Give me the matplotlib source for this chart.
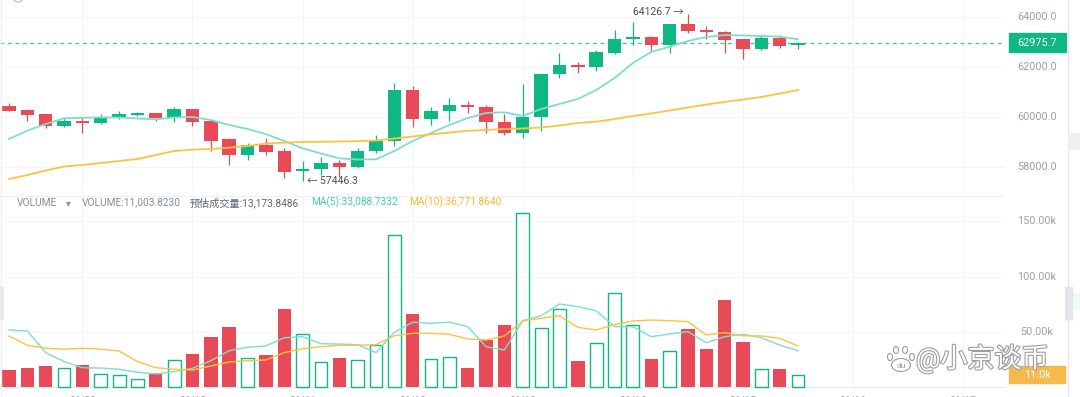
"""
BTC candles with volume pane, redrawn from a screenshot
"""

import matplotlib.pyplot as plt
import matplotlib.patheffects as pe
from matplotlib.patches import Rectangle, Ellipse, FancyBboxPatch
from matplotlib.transforms import blended_transform_factory

plt.rcParams["font.family"] = ["Roboto", "Noto Sans CJK SC", "DejaVu Sans"]

W, H = 1080, 397

# ------------------------------------------------------------------------------------
# Data
# ------------------------------------------------------------------------------------
opens = [60440, 60280, 60107, 59653, 59840, 59747, 59947, 60093, 60147, 59973,
         60307, 59853, 59107, 58493, 58880, 58640, 57840, 57907, 58147, 57987,
         58640, 59040, 61080, 59920, 60253, 60493, 60413, 59787, 59347, 60013,
         61720, 62080, 62013, 62547, 63107, 63213, 62880, 63720, 63480, 63387,
         63120, 62720, 63147, 62867]
highs = [60548, 60320, 60130, 59960, 59960, 60120, 60253, 60213, 60173, 60387,
         60330, 59880, 59173, 58947, 59147, 58747, 58253, 58413, 58280, 58747,
         59280, 61347, 61240, 60387, 60747, 60653, 60480, 60120, 61320, 61773,
         62547, 62213, 62680, 63480, 63813, 63240, 63740, 64126.7, 63653, 63440,
         63120, 63280, 63280, 63013]
lows = [60230, 59853, 59572, 59612, 59347, 59720, 59920, 60053, 59853, 59813,
        59653, 58653, 58080, 58280, 58480, 57547, 57446.3, 57680, 57613, 57960,
        58547, 58840, 59613, 59680, 59853, 60173, 59347, 59280, 59147, 59453,
        61547, 61773, 61853, 62520, 62880, 62613, 62573, 63347, 63107, 62547,
        62307, 62680, 62773, 62707]
closes = [60252, 60067, 59640, 59840, 59747, 59947, 60120, 60173, 59947, 60307,
          59813, 59053, 58493, 58880, 58613, 57813, 57907, 58147, 57987, 58653,
          59040, 61080, 59920, 60253, 60480, 60413, 59787, 59347, 60013, 61720,
          62080, 62013, 62587, 63107, 63213, 62880, 63720, 63453, 63387, 63093,
          62720, 63147, 62840, 62975.7]

price_ma_fast = [59120, 59453, 59720, 59947, 59968, 59988, 59980, 59940, 59907, 59980,
                 60000, 59880, 59680, 59520, 59320, 59040, 58747, 58540, 58347, 58300,
                 58307, 58640, 59040, 59360, 59680, 59960, 60160, 60188, 60040, 60320,
                 60520, 60720, 61080, 61560, 62160, 62600, 62813, 63040, 63200, 63280,
                 63260, 63240, 63213, 63107]
price_ma_slow = [57520, 57680, 57860, 58020, 58080, 58160, 58240, 58320, 58480, 58640,
                 58693, 58720, 58773, 58840, 58940, 58976, 59000, 59008, 59020, 59032,
                 59060, 59140, 59220, 59307, 59380, 59448, 59480, 59520, 59540, 59580,
                 59660, 59760, 59813, 59920, 60040, 60140, 60260, 60380, 60500, 60600,
                 60700, 60800, 60940, 61080]

# volume in thousands
volumes = [15.6, 17.7, 19.5, 17.4, 20.4, 12.0, 11.1, 7.2, 12.7, 24.7,
           30.1, 45.5, 54.5, 26.5, 29.5, 71.1, 48.2, 22.6, 26.8, 24.4,
           38.0, 137.7, 66.3, 25.6, 27.1, 17.7, 42.8, 56.3, 157.6, 53.3,
           70.8, 23.5, 40.0, 85.0, 56.0, 25.9, 32.8, 52.7, 34.6, 78.9,
           41.2, 16.8, 16.8, 11.0]
vol_ma5 = [51.8, 50.9, 31.3, 23.2, 17.7, 17.4, 16.3, 13.6, 12.0, 14.1,
           17.2, 24.0, 33.1, 36.2, 37.3, 44.8, 45.7, 39.4, 39.1, 38.5,
           31.3, 49.7, 58.8, 57.9, 58.8, 54.8, 36.7, 33.7, 60.2, 64.7,
           75.3, 72.9, 69.2, 54.8, 54.8, 45.7, 48.2, 50.3, 40.3, 45.7,
           47.9, 44.8, 38.2, 33.1]
vol_ma10 = [46.4, 38.0, 35.3, 34.4, 35.3, 34.4, 32.8, 23.2, 17.7, 16.3,
            15.6, 19.3, 22.9, 24.0, 24.7, 31.3, 34.9, 36.7, 38.0, 38.0,
            38.5, 46.6, 48.8, 48.8, 47.9, 43.7, 42.8, 46.4, 59.9, 62.4,
            64.7, 54.2, 51.8, 56.6, 59.9, 60.8, 60.2, 59.3, 47.3, 49.4,
            46.6, 46.4, 44.3, 37.3]

price_ticks = [58000, 60000, 62000, 64000]
volume_ticks = [50, 100, 150]
volume_tick_labels = ["50.00k", "100.00k", "150.00k"]
date_labels = ["06/09", "06/10", "06/11", "06/12", "06/13", "06/14", "06/15", "06/16", "06/17"]
last_price = 62975.7
high_label = "64126.7"
low_label = "57446.3"

GREEN = "#0fb883"
RED = "#e84b57"
MA_CYAN = "#7ddfc9"
MA_ORANGE = "#fcc33f"
GRID = "#f4f5f6"
AXIS_TEXT = "#9aa1ab"


def fx(x):
    return x / W


def fy(y):
    return 1 - y / H


fig = plt.figure(figsize=(W / 100, H / 100), dpi=100)
fig.patch.set_facecolor("white")

n = len(closes)
idx = list(range(n))
up = [c >= o for o, c in zip(opens, closes)]
colors = [GREEN if u else RED for u in up]
grid_idx = list(range(4, 55, 6))

# ------------------------------------------------------------------------------------
# Price pane
# ------------------------------------------------------------------------------------
ax = fig.add_axes([0, fy(190), fx(1005), 190 / H])
ax.set_xlim(-0.49, 54.28)
ax.set_ylim(57080, 64680)
ax.axis("off")

for p in price_ticks:
    ax.axhline(p, color=GRID, lw=0.8, zorder=0)
for g in grid_idx:
    ax.axvline(g, color=GRID, lw=0.8, zorder=0)

ax.vlines(idx, lows, highs, colors=colors, lw=0.9, zorder=2)
bottoms = [min(o, c) for o, c in zip(opens, closes)]
heights = [max(abs(c - o), 45) for o, c in zip(opens, closes)]
ax.bar(idx, heights, bottom=bottoms, width=0.73, color=colors, zorder=3)

ax.plot(idx, price_ma_fast, color=MA_CYAN, lw=1.3, zorder=4)
ax.plot(idx, price_ma_slow, color=MA_ORANGE, lw=1.3, zorder=4)

ax.axhline(last_price, color="#3cc293", lw=0.9, ls=(0, (3, 3)), zorder=1)

hi_i = highs.index(max(highs))
lo_i = lows.index(min(lows))
ax.annotate(high_label + " \u2192", (hi_i, max(highs)), xytext=(-3, 1),
            textcoords="offset points", ha="right", va="center",
            fontsize=7.5, color="#474d57")
ax.annotate("\u2190 " + low_label, (lo_i, min(lows)), xytext=(3, 0),
            textcoords="offset points", ha="left", va="center",
            fontsize=7.5, color="#474d57")

tr = blended_transform_factory(fig.transFigure, ax.transData)
for p in price_ticks:
    ax.text(fx(1037), p, f"{p:.1f}", transform=tr, ha="center", va="center",
            fontsize=7.8, color=AXIS_TEXT, clip_on=False)

fig.patches.append(Rectangle((fx(1009), fy(51.7)), fx(57), 18.4 / H,
                             transform=fig.transFigure, color=GREEN, zorder=5))
fig.text(fx(1037.5), fy(42.6), f"{last_price:.1f}", ha="center", va="center",
         fontsize=7.8, color="white", zorder=6)

# top legend row of the price pane, mostly outside the picture
fig.patches.append(Ellipse((fx(18), fy(-3)), fx(10), 10 / H, transform=fig.transFigure,
                           facecolor="none", edgecolor="#b7bdc6", lw=0.8, zorder=6))

# ------------------------------------------------------------------------------------
# Volume pane
# ------------------------------------------------------------------------------------
vax = fig.add_axes([0, 0, fx(1005), 202 / H])
vax.set_xlim(-0.49, 54.28)
vax.set_ylim(-8.77, 173.8)
vax.axis("off")

vax.axhline(173.3, color="#eef0f2", lw=0.8, zorder=0)
for v in volume_ticks:
    vax.axhline(v, color=GRID, lw=0.8, zorder=0)
vax.axhline(0, color="#e6e8eb", lw=0.8, zorder=0)
for g in grid_idx:
    vax.axvline(g, color=GRID, lw=0.8, zorder=0)

for i in idx:
    if up[i]:
        vax.bar(i, volumes[i], width=0.7, facecolor="none", edgecolor=GREEN,
                lw=1.0, zorder=3)
    else:
        vax.bar(i, volumes[i], width=0.73, color=RED, zorder=3)

vax.plot(idx, vol_ma5, color=MA_CYAN, lw=1.0, zorder=4)
vax.plot(idx, vol_ma10, color=MA_ORANGE, lw=1.0, zorder=4)

vtr = blended_transform_factory(fig.transFigure, vax.transData)
for v, lab in zip(volume_ticks, volume_tick_labels):
    vax.text(fx(1037), v, lab, transform=vtr, ha="center", va="center",
             fontsize=7.8, color=AXIS_TEXT, clip_on=False)

fig.patches.append(Rectangle((fx(1009), fy(383.3)), fx(56), 17.6 / H,
                             transform=fig.transFigure, color="#f6b94c", zorder=5))
fig.text(fx(1037), fy(374.5), f"{volumes[-1]:.1f}k", ha="center", va="center",
         fontsize=7.8, color="white", zorder=6)

# legend row of the volume pane
legend_y = fy(202.7)
fig.text(fx(17), legend_y, "VOLUME", fontsize=7.3, color="#848e9c", va="center")
fig.text(fx(66), legend_y, "\u25be", fontsize=7, color="#848e9c", va="center")
fig.text(fx(82), legend_y, "VOLUME:11,003.8230", fontsize=7.3, color="#848e9c", va="center")
fig.text(fx(190), legend_y, "预估成交量:13,173.8486", fontsize=7.3, color="#5e6673", va="center")
fig.text(fx(311), legend_y, "MA(5):33,088.7332", fontsize=7.3, color="#3fd0b0", va="center")
fig.text(fx(409), legend_y, "MA(10):36,771.8640", fontsize=7.3, color="#f9b72f", va="center")

# date labels, cut by the bottom edge like in the screenshot
date_tr = blended_transform_factory(vax.transData, fig.transFigure)
for g, lab in zip(grid_idx, date_labels):
    vax.text(g, fy(395.3), lab, transform=date_tr, ha="center", va="top",
             fontsize=7.3, color=AXIS_TEXT, clip_on=False)

# ------------------------------------------------------------------------------------
# Frame bits and watermark
# ------------------------------------------------------------------------------------
fig.patches.append(Rectangle((fx(1067), 0), fx(13), 1, transform=fig.transFigure,
                             facecolor="white", edgecolor="none", zorder=7))
fig.lines.append(plt.Line2D([fx(1067.5)] * 2, [0, 1], transform=fig.transFigure,
                            color="#e3e6e9", lw=0.8, zorder=8))
fig.patches.append(Rectangle((fx(1068), fy(150)), fx(12), 17 / H, transform=fig.transFigure,
                             facecolor="#eef0f2", edgecolor="none", zorder=8))
fig.patches.append(FancyBboxPatch((fx(1066), fy(320)), fx(6), 33 / H,
                                  boxstyle="round,pad=0.001", transform=fig.transFigure,
                                  facecolor="#e2e5e9", edgecolor="none", zorder=9))
fig.patches.append(Rectangle((fx(1073), fy(310)), fx(7), 17 / H, transform=fig.transFigure,
                             facecolor="#eefaf5", edgecolor="none", zorder=8))
fig.patches.append(FancyBboxPatch((0, fy(320)), fx(3), 33 / H,
                                  boxstyle="round,pad=0.001", transform=fig.transFigure,
                                  facecolor="#e6e8eb", edgecolor="none", zorder=9))
fig.lines.append(plt.Line2D([fx(0.6)] * 2, [0, 1], transform=fig.transFigure,
                            color="#eef0f4", lw=1.0, zorder=8))

wm_fx = [pe.withStroke(linewidth=1.6, foreground="#9c9c9c")]
fig.text(fx(916), fy(359), "@小京谈币", fontsize=19.5, color="white", va="center",
         ha="left", path_effects=wm_fx, zorder=10)
paw = [(890, 357, 5, 7), (896, 350, 5, 7), (905, 350, 5, 7), (912, 357, 5, 7)]
for px_, py_, pw, ph in paw:
    fig.patches.append(Ellipse((fx(px_), fy(py_)), fx(pw), ph / H, transform=fig.transFigure,
                               facecolor="white", edgecolor="#9c9c9c", lw=0.8, zorder=10))
fig.patches.append(Ellipse((fx(901), fy(365)), fx(19), 13 / H, transform=fig.transFigure,
                           facecolor="white", edgecolor="#9c9c9c", lw=0.8, zorder=10))
fig.text(fx(901), fy(365.5), "du", fontsize=6, color="#9c9c9c", ha="center", va="center",
         zorder=11)

fig.savefig("out.png", dpi=100)
